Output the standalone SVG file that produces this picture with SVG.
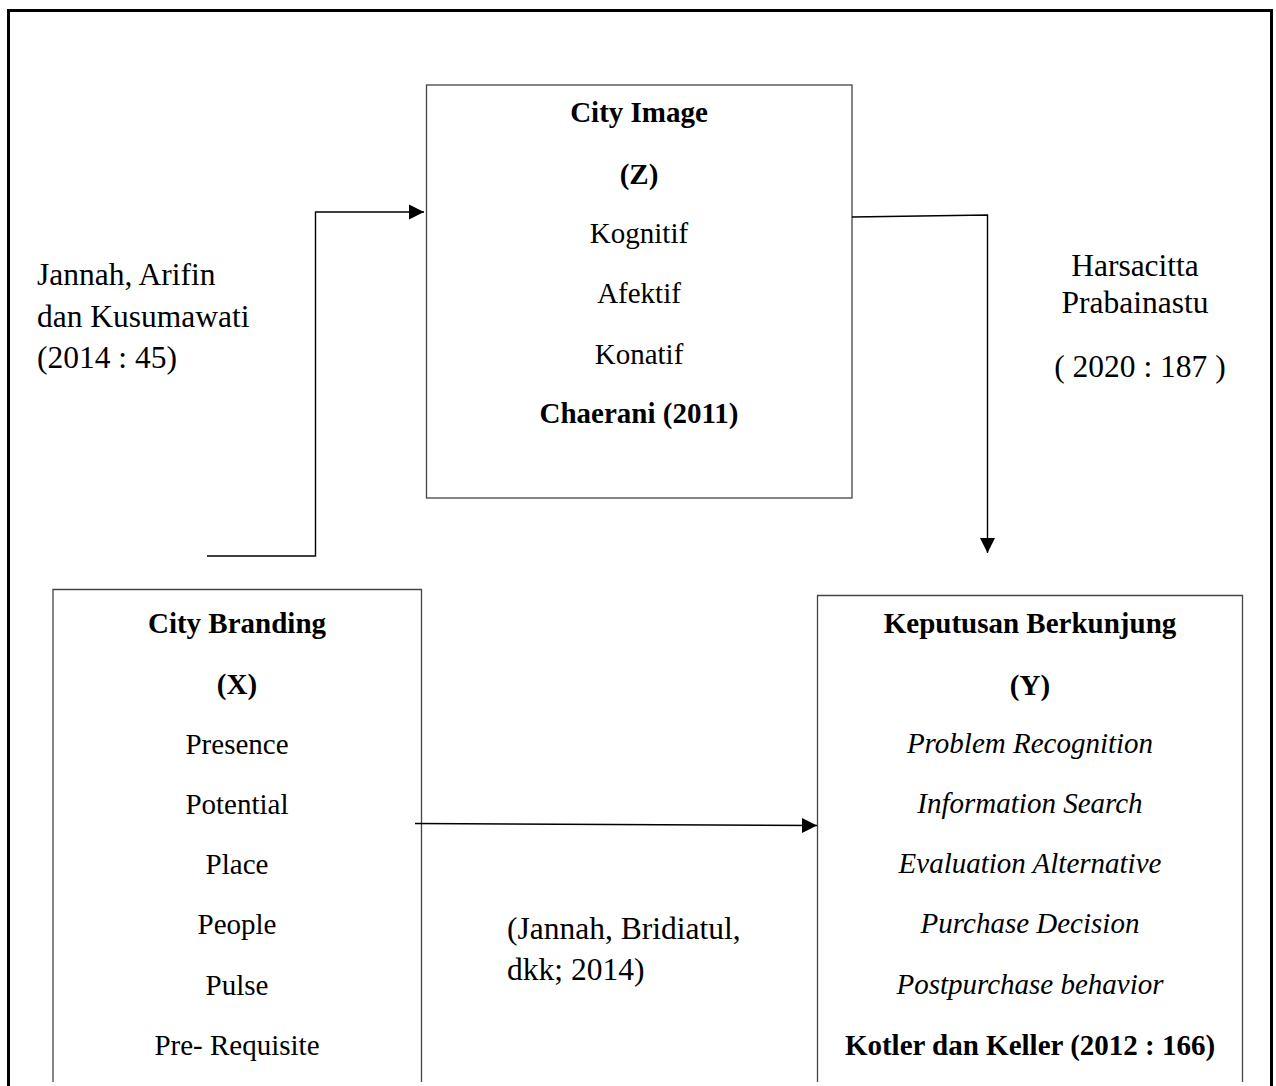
<svg xmlns="http://www.w3.org/2000/svg" width="1276" height="1086" viewBox="0 0 1276 1086">
<defs>
<style>
text{font-family:"Liberation Serif","Times New Roman",serif;fill:#000}
.t{font-size:29px;text-anchor:middle}
.b{font-weight:bold}
.i{font-style:italic}
.lab{font-size:31.5px}
.box{fill:#fff;stroke:#444;stroke-width:1.3}
.con{fill:none;stroke:#000;stroke-width:1.4}
</style>
<marker id="ah" markerUnits="userSpaceOnUse" markerWidth="16" markerHeight="16" refX="15" refY="8" orient="auto">
<path d="M0,0.5 L15,8 L0,15.5 z" fill="#000"/>
</marker>
</defs>
<rect width="1276" height="1086" fill="#fff"/>
<path d="M8.5,1086 V10.5 H1271.5 V1086" fill="none" stroke="#000" stroke-width="3"/>

<g id="cityImage">
<rect class="box" x="426.5" y="85" width="425.5" height="413"/>
<text class="t b" x="639" y="122">City Image</text>
<text class="t b" x="639" y="184">(Z)</text>
<text class="t" x="639" y="243">Kognitif</text>
<text class="t" x="639" y="303">Afektif</text>
<text class="t" x="639" y="364">Konatif</text>
<text class="t b" x="639" y="423">Chaerani (2011)</text>
</g>

<g id="cityBranding">
<path class="box" d="M53,1082 V589.5 H421.5 V1082"/>
<text class="t b" x="237" y="633">City Branding</text>
<text class="t b" x="237" y="694">(X)</text>
<text class="t" x="237" y="754">Presence</text>
<text class="t" x="237" y="814">Potential</text>
<text class="t" x="237" y="874">Place</text>
<text class="t" x="237" y="934">People</text>
<text class="t" x="237" y="995">Pulse</text>
<text class="t" x="237" y="1055">Pre- Requisite</text>
</g>

<g id="keputusan">
<path class="box" d="M817.5,1082 V595.5 H1242.5 V1082"/>
<text class="t b" x="1030" y="633">Keputusan Berkunjung</text>
<text class="t b" x="1030" y="695">(Y)</text>
<text class="t i" x="1030" y="753">Problem Recognition</text>
<text class="t i" x="1030" y="813">Information Search</text>
<text class="t i" x="1030" y="873">Evaluation Alternative</text>
<text class="t i" x="1030" y="933">Purchase Decision</text>
<text class="t i" x="1030" y="994">Postpurchase behavior</text>
<text class="t b" x="1030" y="1055">Kotler dan Keller (2012 : 166)</text>
</g>

<g id="labelLeft">
<text class="lab" x="37" y="285">Jannah, Arifin</text>
<text class="lab" x="37" y="327">dan Kusumawati</text>
<text class="lab" x="37" y="368">(2014 : 45)</text>
</g>

<g id="labelRight">
<text class="lab" x="1135" y="276" text-anchor="middle">Harsacitta</text>
<text class="lab" x="1135" y="313" text-anchor="middle">Prabainastu</text>
<text class="lab" x="1140" y="377" text-anchor="middle">( 2020 : 187 )</text>
</g>

<g id="labelMiddle">
<text class="lab" x="507" y="939">(Jannah, Bridiatul,</text>
<text class="lab" x="507" y="980">dkk; 2014)</text>
</g>

<g id="connectors">
<path class="con" d="M207,556 H315.5 V212 H424" marker-end="url(#ah)"/>
<path class="con" d="M852,217 L987.5,215 V553" marker-end="url(#ah)"/>
<path class="con" d="M415,823.5 L817,825.5" marker-end="url(#ah)"/>
</g>
</svg>
